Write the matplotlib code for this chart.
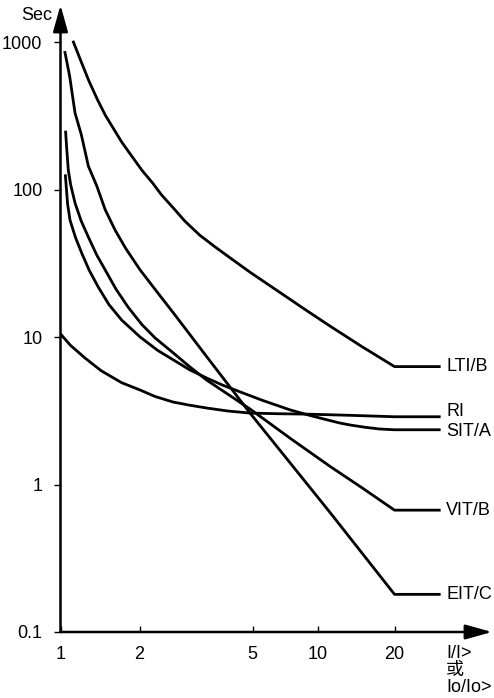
import matplotlib
matplotlib.use("Agg")
import numpy as np
import matplotlib.pyplot as plt

# curve data (x = I/I>, y = seconds)
lti_x = [1.12, 1.19, 1.28, 1.38, 1.48, 1.6, 1.71, 1.87, 2.04, 2.23, 2.39, 2.63, 2.89,
         3.26, 3.68, 4.17, 4.9, 6.7, 8.7, 11.2, 14.9, 20, 30]
lti_y = [1000, 760, 550, 410, 320, 255, 210, 168, 135, 110, 92, 75, 61,
         49, 41, 34.4, 27.5, 20, 15.4, 11.8, 8.6, 6.3, 6.3]

ri_x = [1.0, 1.09, 1.24, 1.43, 1.71, 2.01, 2.27, 2.63, 3.0, 3.45, 4.09, 4.9, 6.48,
        8.82, 12.9, 20, 30]
ri_y = [10.5, 8.8, 7.2, 5.9, 4.9, 4.37, 3.95, 3.62, 3.45, 3.3, 3.15, 3.05, 3.02,
        3.0, 2.95, 2.88, 2.88]

sit_x = [1.044, 1.064, 1.087, 1.142, 1.205, 1.287, 1.393, 1.529, 1.712, 2.01, 2.32,
         2.63, 3.0, 3.45, 3.93, 4.5, 5.61, 7.47, 9.17, 10.9, 12.2, 13.4, 15.4, 17.4, 20, 30]
sit_y = [124, 80, 62, 47, 37, 28.3, 21.8, 16.6, 13.0, 10.0, 8.1,
         7.0, 6.0, 5.27, 4.71, 4.26, 3.7, 3.2, 2.94, 2.74, 2.61, 2.53, 2.44, 2.38, 2.35, 2.35]

vit_x = [1.046, 1.056, 1.071, 1.093, 1.136, 1.2, 1.277, 1.374, 1.48, 1.625, 1.807,
         2.035, 2.27, 2.63, 3.0, 3.45, 4.9, 7.58, 11.2, 14.9, 20, 30]
vit_y = [245, 190, 135, 108, 81, 61, 47.6, 36, 28.5, 21.2, 16.0,
         12.2, 9.85, 7.8, 6.3, 5.1, 3.25, 2.02, 1.32, 0.95, 0.67, 0.67]

eit_x = [1.04, 1.083, 1.136, 1.2, 1.277, 1.374, 1.48, 1.615, 1.77, 2.01, 2.32, 2.63,
         3.45, 4.9, 11.2, 20, 30]
eit_y = [850, 590, 330, 236, 144, 106, 73, 53, 40, 28.5, 19.9, 14.6,
         7.35, 3.05, 0.64, 0.18, 0.18]

names = ["LTI/B", "RI", "SIT/A", "VIT/B", "EIT/C"]
xs = [lti_x, ri_x, sit_x, vit_x, eit_x]
ys = [lti_y, ri_y, sit_y, vit_y, eit_y]
label_dy = [0, 3.5, -1.5, 0, 0]   # points, keeps RI / SIT/A labels apart

x_ticks = [1, 2, 5, 10, 20]
y_ticks = [0.1, 1, 10, 100, 1000]
y_tick_labels = ["0.1", "1", "10", "100", "1000"]

# the printed x axis is only roughly logarithmic: tick spacing
scale_log = [-1, 0, np.log10(2), np.log10(5), 1, np.log10(20), 3]
scale_pos = [-262.4, 0, 79, 192, 257.5, 334, 765.5]


def fwd(x):
    x = np.clip(np.asarray(x, dtype=float), 1e-12, None)
    return np.interp(np.log10(x), scale_log, scale_pos)


def inv(p):
    return 10 ** np.interp(np.asarray(p, dtype=float), scale_pos, scale_log)


plt.rcParams["font.family"] = ["Liberation Sans", "Noto Sans CJK SC", "DejaVu Sans"]

fig = plt.figure(figsize=(4.94, 6.98), dpi=100)
ax = fig.add_axes([60.5 / 494, 66 / 698, 431.5 / 494, 627 / 698])
ax.set_xscale("function", functions=(fwd, inv))
ax.set_yscale("log")
ax.set_xlim(1, 48.4)
ax.set_ylim(0.1, 1782)

for name, x, y, dy in zip(names, xs, ys, label_dy):
    ax.plot(x, y, color="black", lw=2.0, solid_joinstyle="round")
    ax.annotate(name, xy=(x[-1], y[-1]), xytext=(5, dy), textcoords="offset points",
                ha="left", va="center", fontsize=13)

# axes drawn as arrows
for sp in ax.spines.values():
    sp.set_visible(False)
arrow = dict(arrowstyle="-|>,head_length=0.9,head_width=0.25", mutation_scale=18,
             color="black", lw=1.8, shrinkA=0, shrinkB=0)
ax.annotate("", xy=(1, 0), xytext=(0, 0), xycoords="axes fraction", arrowprops=arrow)
ax.annotate("", xy=(0, 1), xytext=(0, 0), xycoords="axes fraction", arrowprops=arrow)

ax.set_xticks(x_ticks)
ax.set_xticklabels([str(t) for t in x_ticks])
ax.set_yticks(y_ticks)
ax.set_yticklabels(y_tick_labels)
ax.minorticks_off()
ax.tick_params(axis="x", direction="in", length=4, width=1, pad=10, labelsize=13)
ax.tick_params(axis="y", direction="out", length=5, width=1, pad=8, labelsize=13)

fig.text(37 / 494, 1 - 16 / 698, "Sec", ha="center", va="center", fontsize=13)
fig.text(446 / 494, 1 - 645 / 698, "I/I>\n或\nIo/Io>", ha="left", va="top",
         fontsize=13, linespacing=1.0)

fig.savefig("out.png", dpi=100)
